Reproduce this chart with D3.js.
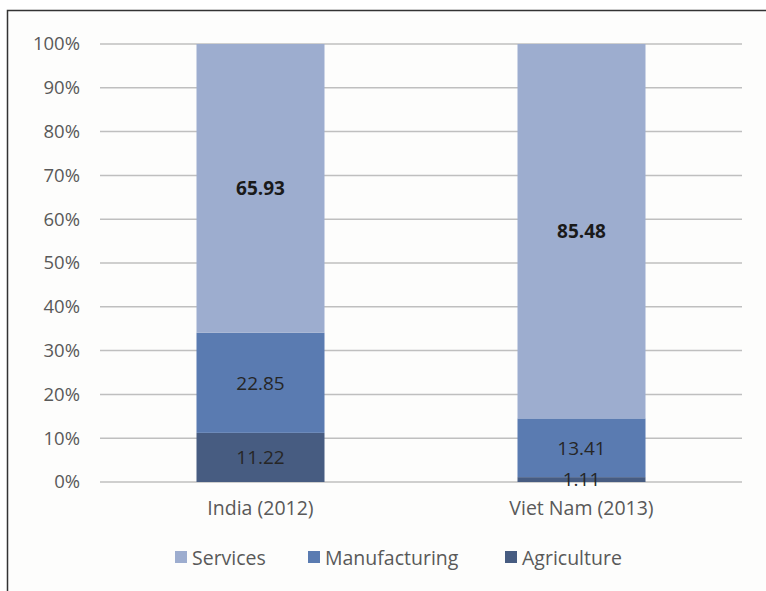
<!DOCTYPE html>
<html>
<head>
<meta charset="utf-8">
<script src="https://d3js.org/d3.v7.min.js"></script>
<style>
  body { margin: 0; background: #fff; }
  svg { display: block; font-family: "Open Sans", Lato, sans-serif; }
</style>
</head>
<body>
<svg width="766" height="591"></svg>
<script>
// chart data
const countries = ["India (2012)", "Viet Nam (2013)"];
const sectors = ["Agriculture", "Manufacturing", "Services"];
const agriculture = [11.22, 1.11];
const manufacturing = [22.85, 13.41];
const services = [65.93, 85.48];
const yTicks = [0, 10, 20, 30, 40, 50, 60, 70, 80, 90, 100];
const legendOrder = ["Services", "Manufacturing", "Agriculture"];

const colors = {Services: "#9dadcf", Manufacturing: "#5a7bb1", Agriculture: "#475c81"};

const svg = d3.select("svg");

// outer frame
svg.append("rect")
  .attr("x", 7.5).attr("y", 10.5)
  .attr("width", 800).attr("height", 700)
  .attr("fill", "#fdfdfc")
  .attr("stroke", "#333").attr("stroke-width", 1.5);

const plotLeft = 100, plotRight = 742, plotTop = 44, plotBottom = 482;

const x = d3.scaleBand().domain(countries).range([plotLeft, plotRight]).padding(0);
const barW = 128;
const y = d3.scaleLinear().domain([0, 100]).range([plotBottom, plotTop]);

// gridlines
svg.append("g").selectAll("line").data(yTicks).join("line")
  .attr("x1", plotLeft).attr("x2", plotRight)
  .attr("y1", d => y(d)).attr("y2", d => y(d))
  .attr("stroke", "#bfbfbf").attr("stroke-width", 1.5);

// y axis labels
const yAxis = d3.axisLeft(y).tickValues(yTicks).tickFormat(d => d + "%").tickSize(0).tickPadding(0);
svg.append("g").attr("transform", "translate(80,0)").call(yAxis)
  .call(g => g.select(".domain").remove())
  .selectAll("text")
  .attr("font-size", 18.5).attr("fill", "#595959").attr("font-family", "'Open Sans', Lato, sans-serif");

// stack the data
const table = countries.map((c, i) => ({
  country: c,
  Agriculture: agriculture[i],
  Manufacturing: manufacturing[i],
  Services: services[i]
}));
const stack = d3.stack().keys(sectors)(table);

const layers = svg.append("g").selectAll("g").data(stack).join("g")
  .attr("fill", d => colors[d.key]);

layers.selectAll("rect").data(d => d).join("rect")
  .attr("x", d => x(d.data.country) + x.bandwidth() / 2 - barW / 2)
  .attr("width", barW)
  .attr("y", d => y(d[1]))
  .attr("height", d => y(d[0]) - y(d[1]));

// value labels
stack.forEach(layer => {
  svg.append("g").selectAll("text").data(layer).join("text")
    .attr("x", d => x(d.data.country) + x.bandwidth() / 2)
    .attr("y", d => {
      const mid = (y(d[0]) + y(d[1])) / 2;
      return layer.key === "Agriculture" && d[1] - d[0] < 3 ? y(d[0]) + 4 : mid + 7;
    })
    .attr("text-anchor", "middle")
    .attr("font-size", 19)
    .attr("font-weight", layer.key === "Services" ? "bold" : "normal")
    .attr("fill", layer.key === "Services" ? "#1a1a1a" : "#262626")
    .text(d => (d[1] - d[0]).toFixed(2));
});

// x axis labels
svg.append("g").selectAll("text").data(countries).join("text")
  .attr("x", d => x(d) + x.bandwidth() / 2)
  .attr("y", 515)
  .attr("text-anchor", "middle")
  .attr("font-size", 19.5)
  .attr("fill", "#595959")
  .text(d => d);

// legend
const legendX = [175, 308, 505];
const legend = svg.append("g").selectAll("g").data(legendOrder).join("g")
  .attr("transform", (d, i) => `translate(${legendX[i]},557)`);
legend.append("rect")
  .attr("x", 0).attr("y", -6).attr("width", 12).attr("height", 12)
  .attr("fill", d => colors[d]);
legend.append("text")
  .attr("x", 17).attr("y", 8)
  .attr("font-size", 19.5)
  .attr("fill", "#595959")
  .text(d => d);
</script>
</body>
</html>
